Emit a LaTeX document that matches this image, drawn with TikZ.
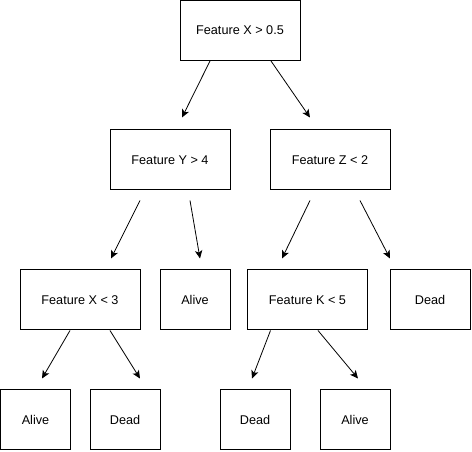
\documentclass[tikz,border=0pt]{standalone}
\usepackage{fontspec}
\setmainfont{Liberation Sans}
\usetikzlibrary{arrows.meta,calc}

\begin{document}
\begin{tikzpicture}[x=0.75pt,y=0.75pt,yscale=-1,xscale=1,
    box/.style={draw,line width=0.75pt,minimum height=45pt,inner sep=0.75pt,font=\fontsize{9.5}{11}\selectfont},
    arr/.style={line width=0.6pt,-{Stealth[length=6pt,width=5.5pt,inset=1.5pt]}}]
    \useasboundingbox (0,0) rectangle (472,452);

    %Shape: Rectangle [level 1]
    \node[box,minimum width=90pt] (root) at (240,30.5) {Feature X > 0.5};
    %Shape: Rectangle [level 2]
    \node[box,minimum width=90pt] (fy) at (170,160) {Feature Y > 4};
    \node[box,minimum width=90pt] (fz) at (330,160) {Feature Z < 2};
    %Shape: Rectangle [level 3]
    \node[box,minimum width=90pt] (fx) at (80,300) {Feature X < 3};
    \node[box,minimum width=52.5pt] (alivea) at (195,300) {Alive};
    \node[box,minimum width=90pt] (fk) at (307.5,300) {Feature K < 5};
    \node[box,minimum width=60pt] (deada) at (430,300) {Dead};
    %Shape: Rectangle [level 4]
    \node[box,minimum width=52.5pt] (aliveb) at (35.5,420) {Alive};
    \node[box,minimum width=52.5pt] (deadb) at (125,420) {Dead};
    \node[box,minimum width=52.5pt] (deadc) at (255,420) {Dead};
    \node[box,minimum width=52.5pt] (alivec) at (355,420) {Alive};

    %Straight Lines
    \draw[arr] ($(root.south)+(-30,0)$) -- ($(fy.north)+(12,-12)$);
    \draw[arr] ($(root.south)+(31,0)$) -- ($(fz.north)+(-20,-12)$);
    \draw[arr] ($(fy.south)+(-30,10)$) -- ($(fx.north)+(31,-11)$);
    \draw[arr] ($(fy.south)+(20,10)$) -- ($(alivea.north)+(5,-11)$);
    \draw[arr] ($(fz.south)+(-20,10)$) -- ($(fk.north)+(-25.5,-11)$);
    \draw[arr] ($(fz.south)+(30,10)$) -- ($(deada.north)+(-40,-11)$);
    \draw[arr] ($(fx.south)+(-10,0)$) -- ($(aliveb.north)+(6.5,-11)$);
    \draw[arr] ($(fx.south)+(30,0)$) -- ($(deadb.north)+(15,-11)$);
    \draw[arr] ($(fk.south)+(-37,0)$) -- ($(deadc.north)+(-3,-11)$);
    \draw[arr] ($(fk.south)+(10.5,0)$) -- ($(alivec.north)+(3,-11)$);

\end{tikzpicture}
\end{document}
